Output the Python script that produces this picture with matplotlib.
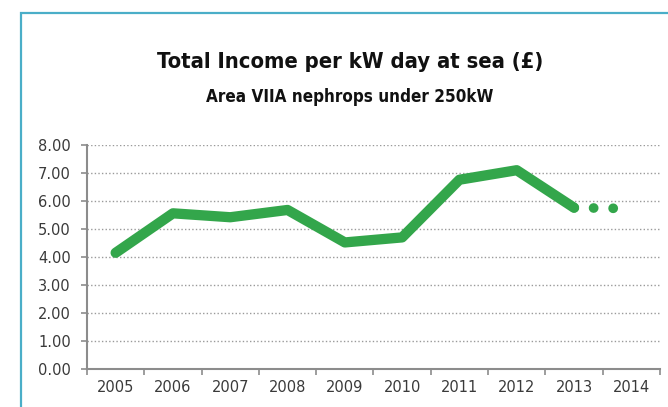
import matplotlib.pyplot as plt
from matplotlib.patches import Rectangle
from matplotlib import font_manager

years = ["2005", "2006", "2007", "2008", "2009", "2010", "2011", "2012", "2013", "2014"]
income = [4.15, 5.56, 5.42, 5.68, 4.52, 4.70, 6.76, 7.10, 5.76]
projection = [5.76, 5.73]  # 2013 -> 2014, drawn dotted
y_ticks = [0, 1, 2, 3, 4, 5, 6, 7, 8]

green = "#33a64b"
axis_grey = "#8c8c8c"
text_grey = "#3a3a3a"


def title_props():
    # a narrow bold face if one is installed, else plain DejaVu Sans shrunk a bit
    names = {f.name for f in font_manager.fontManager.ttflist}
    for name in ("Liberation Sans Narrow", "DejaVu Sans Condensed"):
        if name in names:
            return dict(family=[name, "DejaVu Sans"]), 1.0
    condensed = [f for f in font_manager.fontManager.ttflist
                 if f.name == "DejaVu Sans" and "condensed" in str(f.stretch).lower()]
    if condensed:
        return dict(family=["DejaVu Sans"], fontstretch="condensed"), 0.9
    return dict(family=["DejaVu Sans"]), 0.81


def main() -> None:
    fig = plt.figure(figsize=(6.68, 4.07), dpi=100)
    W, H = 668, 407
    ax = fig.add_axes([87 / W, 1 - 369 / H, (660 - 87) / W, (369 - 145) / H])

    x = list(range(len(income)))
    ax.plot(x, income, color=green, lw=7.4, solid_capstyle="round",
            solid_joinstyle="round", zorder=3)
    px = [len(income) - 1, len(income)]
    dotted, = ax.plot(px, projection, color=green, lw=7.0,
                      dash_capstyle="round", zorder=3)
    dotted.set_dashes([0.01, 14.0 / 7.0])

    ax.set_xlim(-0.5, len(years) - 0.5)
    ax.set_ylim(0, 8)

    ax.set_yticks(y_ticks)
    ax.set_yticklabels([f"{v:.2f}" for v in y_ticks])
    ax.yaxis.grid(True, color="#9a9a9a", lw=1.0, linestyle=(0, (1, 1.6)))
    ax.set_axisbelow(True)

    ax.set_xticks([i - 0.5 for i in range(len(years) + 1)])
    ax.set_xticklabels([])
    ax.set_xticks(range(len(years)), minor=True)
    ax.set_xticklabels(years, minor=True)
    ax.tick_params(axis="x", which="minor", length=0, pad=8)
    ax.tick_params(axis="x", which="major", length=4, width=1.2, color=axis_grey)
    ax.tick_params(axis="y", length=4, width=1.2, color=axis_grey, pad=7.5)
    ax.tick_params(axis="both", which="both", labelsize=10.5, labelcolor=text_grey)

    for side in ("top", "right"):
        ax.spines[side].set_visible(False)
    for side in ("left", "bottom"):
        ax.spines[side].set_color(axis_grey)
        ax.spines[side].set_linewidth(1.5)

    props, k = title_props()
    fig.text(350 / W, 1 - 68 / H, "Total Income per kW day at sea (£)",
             ha="center", va="baseline", fontsize=17.5 * k, fontweight="bold",
             color="#111111", **props)
    fig.text(350 / W, 1 - 102 / H, "Area VIIA nephrops under 250kW",
             ha="center", va="baseline", fontsize=13.6 * k, fontweight="bold",
             color="#111111", **props)

    fig.patches.append(Rectangle((21 / W, -0.1), 1.0, (H - 13) / H + 0.1,
                                 transform=fig.transFigure, fill=False,
                                 edgecolor="#4aaec8", lw=1.6))

    fig.savefig("out.png", dpi=100)


if __name__ == "__main__":
    main()
